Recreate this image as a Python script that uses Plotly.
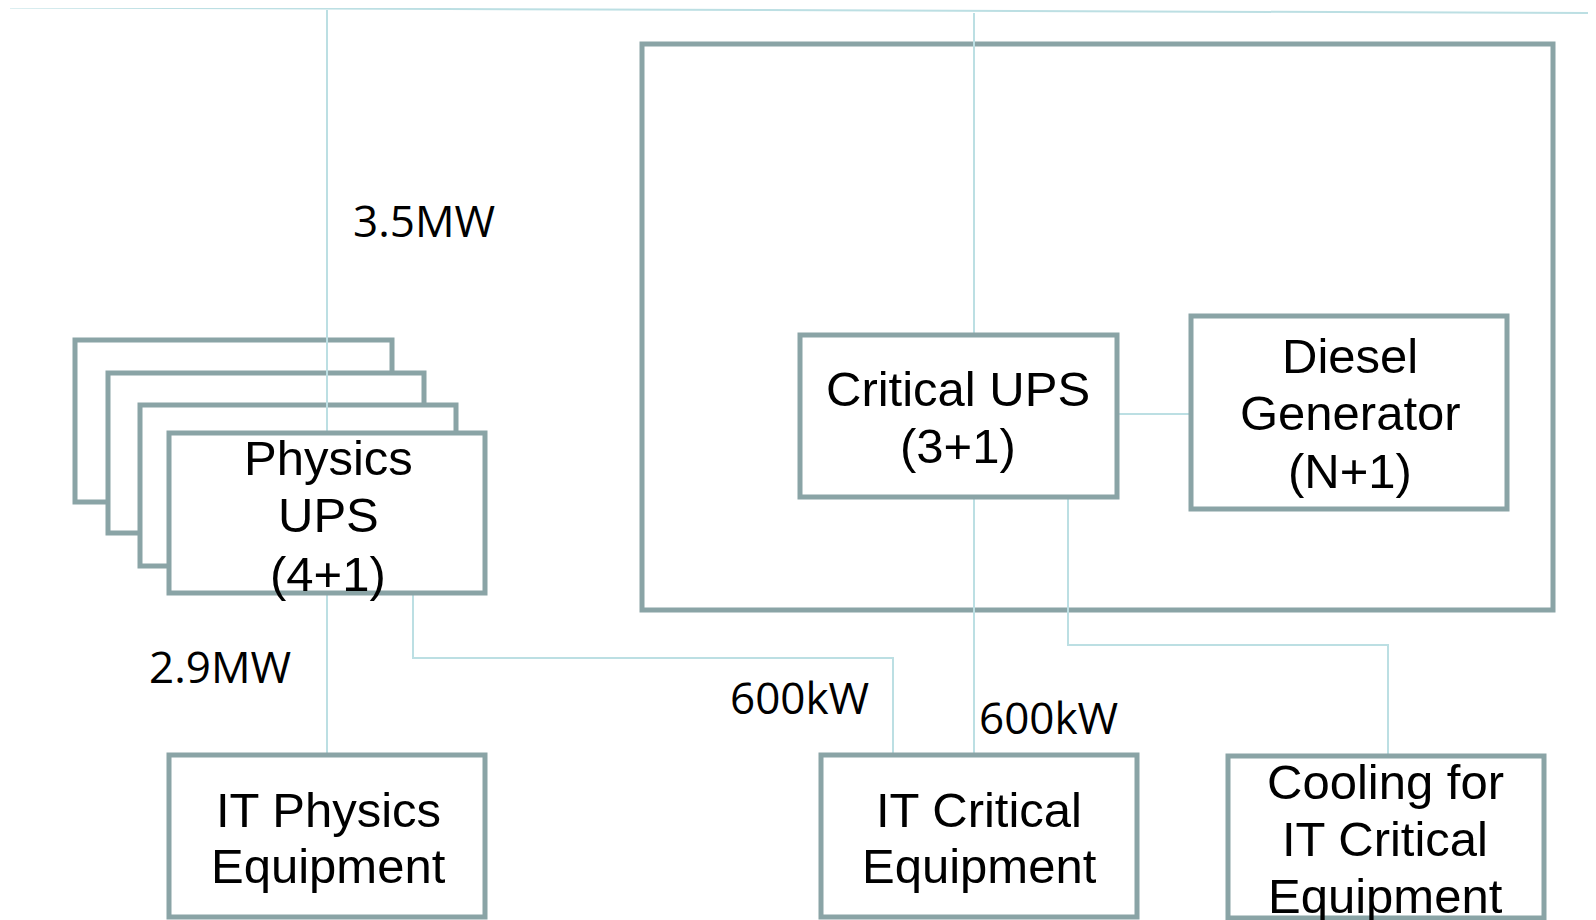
import plotly.graph_objects as go

# ---- diagram data (page-pixel coordinates of the drawing) ----
W, H = 1596, 920
PAGE_MARGIN = 8  # default body margin of the html page

# boxes: name, x0, y0, x1, y1, filled
box_names = ["outer_critical", "phys_back1", "phys_back2", "phys_back3",
             "physics_ups", "critical_ups", "diesel", "it_physics", "it_critical", "cooling"]
box_x0 = [642, 75, 108, 140, 169, 800, 1191, 169, 821, 1228]
box_y0 = [44, 340, 373, 405, 433, 335, 316, 755, 755, 756]
box_x1 = [1553, 392, 424, 456, 485, 1117, 1507, 485, 1137, 1544]
box_y1 = [610, 502, 533, 566, 593, 497, 509, 917, 917, 918]
box_fill = [False, True, True, True, True, True, True, True, True, True]

# connector polylines (x list, y list)
wire_x = [
    [10, 1596],                 # top bus
    [327, 327],                 # physics feed
    [974, 974],                 # critical feed
    [413, 413, 893, 893],       # physics UPS -> IT critical
    [1117, 1191],               # critical UPS <-> diesel
    [1068, 1068, 1388, 1388],   # critical UPS -> cooling
]
wire_y = [
    [7.5, 13],
    [10, 755],
    [13, 755],
    [593, 658, 658, 755],
    [414, 414],
    [497, 645, 645, 756],
]

# box text, one entry per line
label_text = ["Physics", "UPS", "(4+1)",
              "Critical UPS", "(3+1)",
              "Diesel", "Generator", "(N+1)",
              "IT Physics", "Equipment",
              "IT Critical", "Equipment",
              "Cooling for", "IT Critical", "Equipment"]
label_x = [328, 328, 328,
           958, 958,
           1350, 1350, 1350,
           328, 328,
           979, 979,
           1385, 1385, 1385]
label_y = [458, 515, 574,
           389, 446,
           356, 413, 471,
           810, 866,
           810, 866,
           782, 839, 896]

# power ratings
power_text = ["3.5MW", "2.9MW", "600kW", "600kW"]
power_x = [351, 147, 728, 977]
power_y = [220, 666, 697, 717]

BORDER = "#8aa4a6"
WIRE = "#bcdfe3"

fig = go.Figure()

shapes = []

def add_box(i):
    shapes.append(dict(type="rect", xref="x", yref="y",
                       x0=box_x0[i], y0=box_y0[i], x1=box_x1[i], y1=box_y1[i],
                       line=dict(color=BORDER, width=5),
                       fillcolor="white" if box_fill[i] else "rgba(0,0,0,0)",
                       layer="above"))

def add_wire(j):
    xs, ys = wire_x[j], wire_y[j]
    path = "M " + " L ".join(f"{x},{y}" for x, y in zip(xs, ys))
    shapes.append(dict(type="path", xref="x", yref="y", path=path,
                       line=dict(color=WIRE, width=2), layer="above"))

# drawing order: outer box, back stack, wires, front boxes
add_box(0)
for i in (1, 2, 3):
    add_box(i)
for j in range(len(wire_x)):
    add_wire(j)
for i in range(4, len(box_names)):
    add_box(i)

annotations = []
for t, x, y in zip(label_text, label_x, label_y):
    annotations.append(dict(x=x, y=y, xref="x", yref="y", text=t, showarrow=False,
                            xanchor="center", yanchor="middle",
                            font=dict(family="Liberation Sans, Arial, sans-serif",
                                      size=49, color="black")))
for t, x, y in zip(power_text, power_x, power_y):
    annotations.append(dict(x=x, y=y, xref="x", yref="y", text=t, showarrow=False,
                            xanchor="left", yanchor="middle",
                            font=dict(family="Open Sans, Noto Sans, sans-serif",
                                      size=44, color="black")))

fig.update_layout(
    width=W, height=H,
    margin=dict(l=0, r=0, t=0, b=0),
    paper_bgcolor="white", plot_bgcolor="white",
    xaxis=dict(range=[PAGE_MARGIN, W + PAGE_MARGIN], visible=False, fixedrange=True),
    yaxis=dict(range=[H + PAGE_MARGIN, PAGE_MARGIN], visible=False, fixedrange=True),
    shapes=shapes, annotations=annotations,
    showlegend=False,
)

fig.write_html("out.html", config={"displayModeBar": False})
